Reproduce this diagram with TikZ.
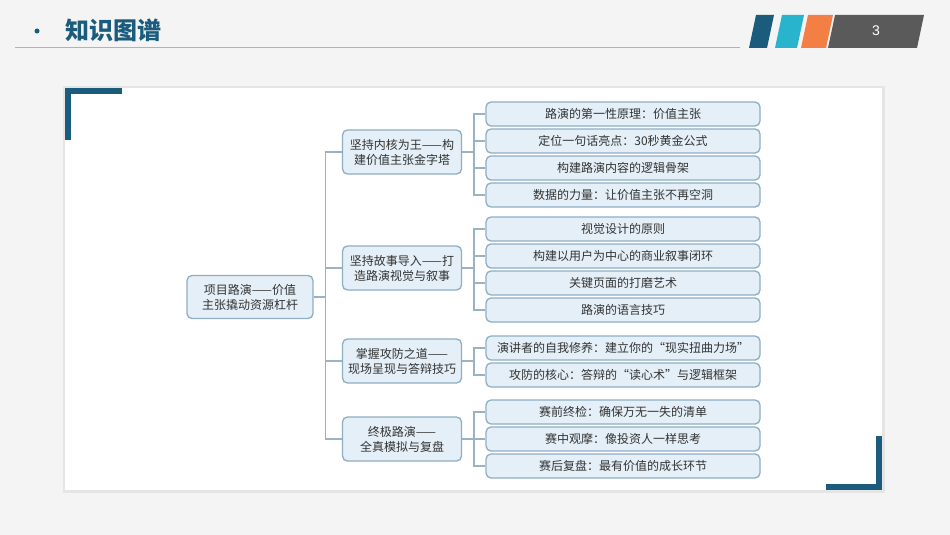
\documentclass[tikz,border=0pt]{standalone}
\usepackage{fontspec}
\setmainfont{Liberation Sans}
\newfontfamily\cjk{Noto Sans CJK SC}
\usetikzlibrary{positioning, calc}
\definecolor{pagebg}{HTML}{F4F4F4}
\definecolor{titleblue}{HTML}{1B5C7C}
\definecolor{stripeblue}{HTML}{1B5C7C}
\definecolor{stripecyan}{HTML}{27B4CC}
\definecolor{stripeorange}{HTML}{F47F45}
\definecolor{stripegray}{HTML}{5A5A5A}
\definecolor{boxfill}{HTML}{E4EFF7}
\definecolor{boxline}{HTML}{8EAEC3}
\definecolor{linkline}{HTML}{9AB3C2}
\begin{document}
\begin{tikzpicture}[
    x=1pt, y=-1pt,
    box/.style={rectangle, rounded corners=5pt, draw=boxline, line width=1.3pt, fill=boxfill, align=center, font=\cjk\fontsize{12}{15}\selectfont, text=black!80, inner sep=2pt},
    mid/.style={box, minimum width=119pt, minimum height=44pt},
    leaf/.style={box, minimum width=274pt, minimum height=24pt},
    link/.style={draw=linkline, line width=1.6pt}
]
    % Page and panel
    \fill[pagebg] (0,0) rectangle (950,535);
    \useasboundingbox (0,0) rectangle (950,535);
    \fill[black!10] (63,86) rectangle (885,493);
    \fill[white] (65,88) rectangle (882,490);
    \fill[stripeblue] (65,88) rectangle (122,94);
    \fill[stripeblue] (65,88) rectangle (71,140);
    \fill[stripeblue] (826,484) rectangle (882,490);
    \fill[stripeblue] (876,436) rectangle (882,490);

    % Header
    \fill[titleblue] (37,31) circle (2.5);
    \node[font=\cjk\bfseries\fontsize{24}{28}\selectfont, text=titleblue, anchor=west] (title) at (62,30) {知识图谱};
    \draw[black!30, line width=0.8pt] (15,47) -- (740,47);
    \fill[stripeblue] (756,15) -- (774,15) -- (767,48) -- (749,48) -- cycle;
    \fill[stripecyan] (782,15) -- (804,15) -- (797,48) -- (775,48) -- cycle;
    \fill[stripeorange] (808,15) -- (833,15) -- (826,48) -- (801,48) -- cycle;
    \fill[stripegray] (835,15) -- (924,15) -- (917,48) -- (828,48) -- cycle;
    \node[text=white, font=\fontsize{14}{16}\selectfont] (pnum) at (876,31) {3};

    % Root and main branches
    \node[box, minimum width=126pt, minimum height=43pt] (root) at (250,297) {项目路演——价值\\主张撬动资源杠杆};
    \node[mid] (core) at (402,152) {坚持内核为王——构\\建价值主张金字塔};
    \node[mid] (story) at (402,268) {坚持故事导入——打\\造路演视觉与叙事};
    \node[mid] (defend) at (402,361) {掌握攻防之道——\\现场呈现与答辩技巧};
    \node[mid] (final) at (402,439) {终极路演——\\全真模拟与复盘};

    % Leaves
    \node[leaf] (c1) at (623,114) {路演的第一性原理：价值主张};
    \node[leaf] (c2) at (623,141) {定位一句话亮点：30秒黄金公式};
    \node[leaf] (c3) at (623,168) {构建路演内容的逻辑骨架};
    \node[leaf] (c4) at (623,195) {数据的力量：让价值主张不再空洞};
    \node[leaf] (s1) at (623,229) {视觉设计的原则};
    \node[leaf] (s2) at (623,256) {构建以用户为中心的商业叙事闭环};
    \node[leaf] (s3) at (623,283) {关键页面的打磨艺术};
    \node[leaf] (s4) at (623,310) {路演的语言技巧};
    \node[leaf] (d1) at (623,348) {演讲者的自我修养：建立你的“现实扭曲力场”};
    \node[leaf] (d2) at (623,375) {攻防的核心：答辩的“读心术”与逻辑框架};
    \node[leaf] (f1) at (623,412) {赛前终检：确保万无一失的清单};
    \node[leaf] (f2) at (623,439) {赛中观摩：像投资人一样思考};
    \node[leaf] (f3) at (623,466) {赛后复盘：最有价值的成长环节};

    % Links
    \foreach \m in {core, story, defend, final}
        \draw[link] (root.east) -- ++(12,0) |- (\m.west);
    \foreach \l in {c1, c2, c3, c4}
        \draw[link] (core.east) -- ++(12,0) |- (\l.west);
    \foreach \l in {s1, s2, s3, s4}
        \draw[link] (story.east) -- ++(12,0) |- (\l.west);
    \foreach \l in {d1, d2}
        \draw[link] (defend.east) -- ++(12,0) |- (\l.west);
    \foreach \l in {f1, f2, f3}
        \draw[link] (final.east) -- ++(12,0) |- (\l.west);
\end{tikzpicture}
\end{document}
